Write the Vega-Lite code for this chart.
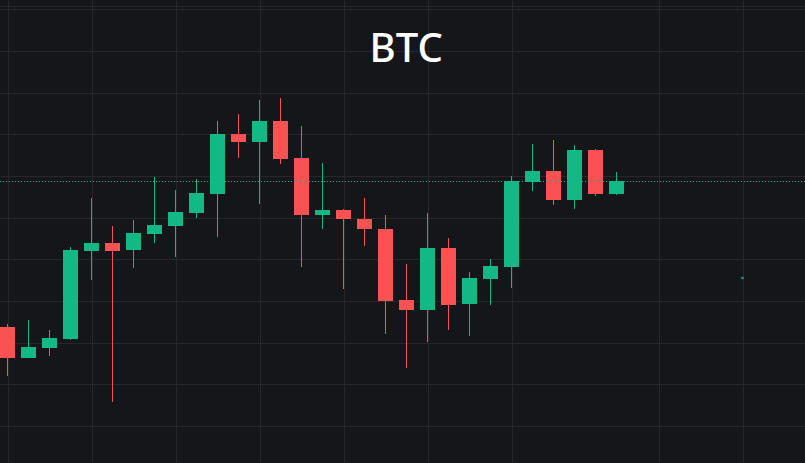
{
  "$schema": "https://vega.github.io/schema/vega-lite/v6.json",
  "width": 805,
  "height": 463,
  "autosize": {"type": "none"},
  "padding": 0,
  "background": "#151619",
  "config": {
    "view": {"stroke": null},
    "axis": {"gridColor": "#26272b", "gridWidth": 1, "gridOpacity": 1}
  },
  "datasets": {
    "candles": [
      {"i": 0, "o": 66194, "h": 66230, "l": 65606, "c": 65822},
      {"i": 1, "o": 65822, "h": 66278, "l": 65822, "c": 65954},
      {"i": 2, "o": 65942, "h": 66158, "l": 65846, "c": 66062},
      {"i": 3, "o": 66050, "h": 67154, "l": 66038, "c": 67118},
      {"i": 4, "o": 67106, "h": 67742, "l": 66758, "c": 67202},
      {"i": 5, "o": 67202, "h": 67406, "l": 65294, "c": 67106},
      {"i": 6, "o": 67118, "h": 67478, "l": 66902, "c": 67322},
      {"i": 7, "o": 67310, "h": 67994, "l": 67202, "c": 67418},
      {"i": 8, "o": 67406, "h": 67838, "l": 67034, "c": 67574},
      {"i": 9, "o": 67562, "h": 67970, "l": 67502, "c": 67802},
      {"i": 10, "o": 67790, "h": 68666, "l": 67274, "c": 68510},
      {"i": 11, "o": 68510, "h": 68750, "l": 68222, "c": 68414},
      {"i": 12, "o": 68414, "h": 68918, "l": 67670, "c": 68666},
      {"i": 13, "o": 68666, "h": 68942, "l": 68150, "c": 68210},
      {"i": 14, "o": 68222, "h": 68606, "l": 66914, "c": 67538},
      {"i": 15, "o": 67538, "h": 68162, "l": 67370, "c": 67598},
      {"i": 16, "o": 67598, "h": 67610, "l": 66650, "c": 67490},
      {"i": 17, "o": 67490, "h": 67742, "l": 67166, "c": 67370},
      {"i": 18, "o": 67370, "h": 67538, "l": 66110, "c": 66506},
      {"i": 19, "o": 66518, "h": 66950, "l": 65702, "c": 66398},
      {"i": 20, "o": 66398, "h": 67562, "l": 66014, "c": 67142},
      {"i": 21, "o": 67142, "h": 67262, "l": 66158, "c": 66458},
      {"i": 22, "o": 66470, "h": 66854, "l": 66086, "c": 66782},
      {"i": 23, "o": 66770, "h": 67010, "l": 66458, "c": 66926},
      {"i": 24, "o": 66914, "h": 68006, "l": 66662, "c": 67946},
      {"i": 25, "o": 67934, "h": 68390, "l": 67826, "c": 68066},
      {"i": 26, "o": 68066, "h": 68438, "l": 67658, "c": 67718},
      {"i": 27, "o": 67718, "h": 68378, "l": 67610, "c": 68318},
      {"i": 28, "o": 68318, "h": 68330, "l": 67766, "c": 67790},
      {"i": 29, "o": 67790, "h": 68054, "l": 67778, "c": 67946}
    ],
    "marker": [{"i": 35, "v": 66782}]
  },
  "data": {"name": "candles"},
  "layer": [
    {
      "mark": {"type": "rule", "strokeWidth": 1},
      "encoding": {
        "x": {
          "field": "i", "type": "quantitative",
          "scale": {"domain": [-0.357143, 37.97619], "nice": false, "zero": false, "padding": 0},
          "axis": {"values": [0, 4, 8, 12, 16, 20, 24, 31, 35], "grid": true, "labels": false, "ticks": false, "domain": false, "title": null}
        },
        "y": {
          "field": "l", "type": "quantitative",
          "scale": {"domain": [64562, 70118], "nice": false, "zero": false, "padding": 0},
          "axis": {"values": [70046, 70006, 69506, 69006, 68506, 68006, 67506, 67006, 66506, 66006, 65506, 65006], "grid": true, "labels": false, "ticks": false, "domain": false, "title": null}
        },
        "y2": {"field": "h"},
        "color": {
          "condition": {"test": "datum.c >= datum.o", "value": "#12b886"},
          "value": "#fa5252"
        }
      }
    },
    {
      "mark": {"type": "bar", "size": 15},
      "encoding": {
        "x": {"field": "i", "type": "quantitative"},
        "y": {"field": "o", "type": "quantitative"},
        "y2": {"field": "c"},
        "color": {
          "condition": {"test": "datum.c >= datum.o", "value": "#12b886"},
          "value": "#fa5252"
        }
      }
    },
    {
      "mark": {"type": "rule", "strokeDash": [1, 2], "strokeWidth": 1, "color": "#12b886"},
      "encoding": {
        "y": {"datum": 67940, "type": "quantitative"}
      }
    },
    {
      "data": {"name": "marker"},
      "mark": {"type": "point", "shape": "square", "filled": true, "size": 6, "color": "#1f8f99", "opacity": 1},
      "encoding": {
        "x": {"field": "i", "type": "quantitative"},
        "y": {"field": "v", "type": "quantitative"}
      }
    },
    {
      "data": {"values": [{"label": "BTC"}]},
      "mark": {"type": "text", "font": "Noto Sans", "fontSize": 40, "fontWeight": 500, "color": "#ffffff", "align": "center", "baseline": "alphabetic"},
      "encoding": {
        "text": {"field": "label"},
        "x": {"datum": 18.986, "type": "quantitative"},
        "y": {"datum": 69378, "type": "quantitative"}
      }
    }
  ]
}
